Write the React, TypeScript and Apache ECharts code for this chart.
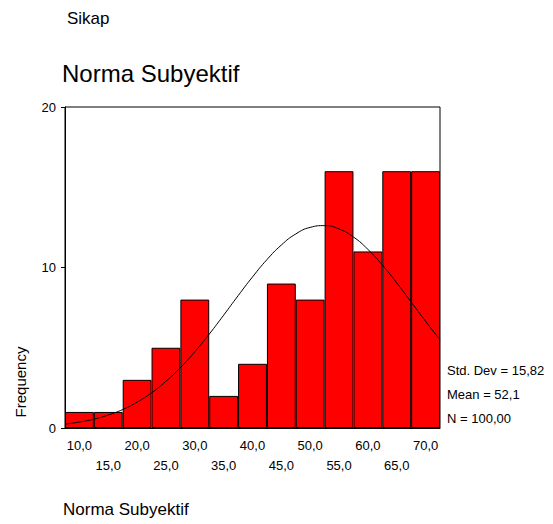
import React, { useEffect, useRef } from "react";
import * as echarts from "echarts";

const binCenters = ["10,0", "15,0", "20,0", "25,0", "30,0", "35,0", "40,0", "45,0", "50,0", "55,0", "60,0", "65,0", "70,0"];
const frequencies = [1, 1, 3, 5, 8, 2, 4, 9, 8, 16, 11, 16, 16];
const curveX = [7.5, 10, 12.5, 15, 17.5, 20, 22.5, 25, 27.5, 30, 32.5, 35, 37.5, 40, 42.5, 45, 47.5, 50, 52.5, 55, 57.5, 60, 62.5, 65, 67.5, 70, 72.5];
const curveY = [0.24, 0.37, 0.55, 0.81, 1.15, 1.61, 2.19, 2.91, 3.76, 4.75, 5.85, 7.03, 8.24, 9.41, 10.49, 11.4, 12.09, 12.5, 12.61, 12.4, 11.9, 11.13, 10.16, 9.04, 7.85, 6.65, 5.49];
const yTicks = [0, 10, 20];
const statLines = ["Std. Dev = 15,82", "Mean = 52,1", "N = 100,00"];

const FONT = "'Liberation Sans', Arial, sans-serif";

export default function App() {
  const ref = useRef<HTMLDivElement>(null);
  useEffect(() => {
    if (!ref.current) return;
    document.body.style.margin = "0";
    const chart = echarts.init(ref.current, null, { renderer: "svg" });
    const statGraphics = statLines.map((t, i) => ({
      type: "text",
      left: 447,
      top: 364 + i * 24,
      style: { text: t, font: `13px ${FONT}`, fill: "#000" },
    }));
    chart.setOption({
      animation: false,
      backgroundColor: "#fff",
      textStyle: { fontFamily: FONT },
      grid: {
        left: 65,
        right: 113,
        top: 107,
        bottom: 96,
        show: true,
        borderColor: "#000",
        borderWidth: 1,
        backgroundColor: "transparent",
      },
      xAxis: [
        {
          type: "category",
          data: binCenters,
          boundaryGap: true,
          axisLine: { lineStyle: { color: "#000", width: 1 } },
          axisTick: { alignWithLabel: true, length: 4, lineStyle: { color: "#000" } },
          axisLabel: {
            interval: 0,
            color: "#000",
            fontSize: 13,
            fontFamily: FONT,
            margin: 7,
            lineHeight: 20,
            formatter: (v: string, i: number) => (i % 2 === 0 ? v : "\n" + v),
          },
          splitLine: { show: false },
        },
        {
          type: "value",
          min: 7.5,
          max: 72.5,
          show: false,
        },
      ],
      yAxis: {
        type: "value",
        min: 0,
        max: 20,
        interval: 10,
        axisLine: { show: true, lineStyle: { color: "#000", width: 1 } },
        axisTick: { show: true, length: 4, lineStyle: { color: "#000" } },
        axisLabel: {
          color: "#000",
          fontSize: 13,
          fontFamily: FONT,
          margin: 9,
          customValues: yTicks,
        },
        splitLine: { show: false },
      },
      series: [
        {
          type: "bar",
          data: frequencies,
          xAxisIndex: 0,
          barWidth: "100%",
          barCategoryGap: 0,
          itemStyle: { color: "#ff0000", borderColor: "#000", borderWidth: 1 },
          z: 2,
        },
        {
          type: "line",
          xAxisIndex: 1,
          data: curveX.map((x, i) => [x, curveY[i]]),
          smooth: true,
          showSymbol: false,
          lineStyle: { color: "#000", width: 1 },
          z: 3,
        },
      ],
      graphic: [
        {
          type: "text",
          left: 67,
          top: 10,
          style: { text: "Sikap", font: `17px ${FONT}`, fill: "#000" },
        },
        {
          type: "text",
          left: 62,
          top: 61,
          style: { text: "Norma Subyektif", font: `24px ${FONT}`, fill: "#000" },
        },
        {
          type: "text",
          x: 20,
          y: 382,
          rotation: Math.PI / 2,
          style: {
            text: "Frequency",
            font: `15px ${FONT}`,
            fill: "#000",
            align: "center",
            verticalAlign: "middle",
          },
        },
        ...statGraphics,
        {
          type: "text",
          left: 63,
          top: 501,
          style: { text: "Norma Subyektif", font: `17px ${FONT}`, fill: "#000" },
        },
      ],
    });
    return () => chart.dispose();
  }, []);
  return <div ref={ref} style={{ width: 553, height: 524 }} />;
}
